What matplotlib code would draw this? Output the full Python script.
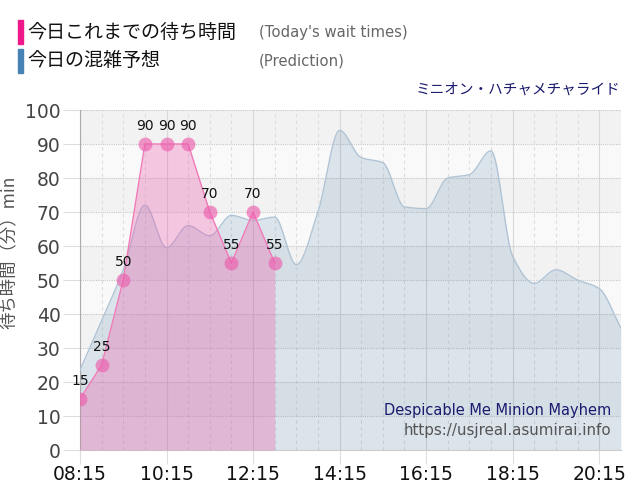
import numpy as np
import matplotlib.pyplot as plt
import matplotlib.patches as patches

plt.rcParams['font.family'] = ['DejaVu Sans', 'Noto Sans CJK JP']

# Today's actual wait times (min)
actual_times = ["08:15", "08:45", "09:15", "09:45", "10:15", "10:45",
                "11:15", "11:45", "12:15", "12:45"]
actual_wait = [15, 25, 50, 90, 90, 90, 70, 55, 70, 55]

# Prediction curve (min)
pred_times = ["08:15", "08:45", "09:15", "09:45", "10:15", "10:45", "11:15",
              "11:45", "12:15", "12:45", "13:15", "13:45", "14:15", "14:45",
              "15:15", "15:45", "16:15", "16:45", "17:15", "17:45", "18:15",
              "18:45", "19:15", "19:45", "20:15", "20:45"]
pred_wait = [23.5, 38, 53, 72, 59.5, 66, 63, 69, 67.5, 68.5, 54.5, 70, 94, 86,
             84.5, 71.5, 71, 80, 81, 88, 57, 49, 53, 50, 47.5, 36]

xtick_labels = ["08:15", "10:15", "12:15", "14:15", "16:15", "18:15", "20:15"]


def to_hours(ts):
    return np.array([int(t[:2]) + int(t[3:]) / 60 for t in ts])


## monotone cubic smoothing, only for drawing the prediction line
def smooth(x, y, n=20):
    x = np.asarray(x, float)
    y = np.asarray(y, float)
    h = np.diff(x)
    d = np.diff(y) / h
    m = np.zeros_like(y)
    m[0], m[-1] = d[0], d[-1]
    for i in range(1, len(y) - 1):
        if d[i - 1] * d[i] > 0:
            m[i] = 2 / (1 / d[i - 1] + 1 / d[i])
    xs, ys = [], []
    for i in range(len(h)):
        t = np.linspace(0, 1, n, endpoint=False)
        h00 = 2 * t**3 - 3 * t**2 + 1
        h10 = t**3 - 2 * t**2 + t
        h01 = -2 * t**3 + 3 * t**2
        h11 = t**3 - t**2
        xs.append(x[i] + t * h[i])
        ys.append(h00 * y[i] + h10 * h[i] * m[i] + h01 * y[i + 1] + h11 * h[i] * m[i + 1])
    xs.append([x[-1]])
    ys.append([y[-1]])
    return np.concatenate(xs), np.concatenate(ys)


xa = to_hours(actual_times)
xp = to_hours(pred_times)
xs, ys = smooth(xp, pred_wait)

fig = plt.figure(figsize=(6.4, 5), dpi=100)
ax = fig.add_axes([0.125, 0.1, 0.845, 0.68])

# banded background
for i in range(10):
    ax.axhspan(i * 10, i * 10 + 10, color='#f2f2f2' if i % 2 else '#f9f9f9', zorder=0, lw=0)

# grid
for v in np.arange(xp[0], xp[-1] + 0.01, 0.5):
    major = abs((v - xp[0]) % 2) < 1e-6
    ax.axvline(v, color='#d8d8d8' if major else '#dddddd', lw=0.8,
               ls='-' if major else (0, (3, 3)), zorder=1)
for v in range(10, 101, 10):
    ax.axhline(v, color='#c8c8c8', lw=0.8, ls=(0, (1, 1)), zorder=1)

# prediction
ax.fill_between(xs, ys, 0, color='#4a7ca8', alpha=0.17, lw=0, zorder=2)
ax.plot(xs, ys, color='#b0c4d6', lw=1, zorder=3)

# actual
ax.fill_between(xa, actual_wait, 0, color='#ee5fae', alpha=0.33, lw=0, zorder=4)
ax.plot(xa, actual_wait, color='#f07ab8', lw=1, zorder=5)
ax.plot(xa, actual_wait, 'o', color='#ec5fae', alpha=0.65, ms=10, mew=0, zorder=6)
for x, v in zip(xa, actual_wait):
    ax.annotate(str(v), (x, v), xytext=(0, 8), textcoords='offset points',
                ha='center', va='bottom', fontsize=10, color='#111111', zorder=7)

ax.set_xlim(xp[0], xp[-1])
ax.set_ylim(0, 100)
ax.set_xticks(to_hours(xtick_labels))
ax.set_xticklabels(xtick_labels, fontsize=13.5, color='#111111')
ax.set_yticks(range(0, 101, 10))
ax.tick_params(axis='y', labelsize=13.5, labelcolor='#444444', length=12, color='#dddddd', pad=2)
ax.tick_params(axis='x', length=10, color='#dddddd', pad=1)
for s in ['top', 'right']:
    ax.spines[s].set_visible(False)
ax.spines['left'].set_color('#aaaaaa')
ax.spines['bottom'].set_color('#cccccc')

ax.set_ylabel('待ち時間（分）min', fontsize=12.5, color='#555555',
              family=['Noto Sans CJK JP', 'DejaVu Sans'])
ax.yaxis.set_label_coords(-0.115, 0.58)

# legend header
fig.patches.append(patches.Rectangle((18 / 640, 1 - 44 / 500), 5 / 640, 24 / 500,
                                     transform=fig.transFigure, color='#f0178a'))
fig.patches.append(patches.Rectangle((18 / 640, 1 - 73 / 500), 5 / 640, 24 / 500,
                                     transform=fig.transFigure, color='#4682b4'))
jp = ['Noto Sans CJK JP', 'DejaVu Sans']
fig.text(27 / 640, 1 - 32 / 500, '今日これまでの待ち時間', fontsize=13.7, va='center', family=jp, color='#111111')
fig.text(27 / 640, 1 - 61 / 500, '今日の混雑予想', fontsize=13.7, va='center', family=jp, color='#111111')
fig.text(259 / 640, 1 - 32 / 500, "(Today's wait times)", fontsize=10.7, va='center', color='#666666')
fig.text(259 / 640, 1 - 61 / 500, "(Prediction)", fontsize=10.7, va='center', color='#666666')
fig.text(620 / 640, 1 - 90 / 500, 'ミニオン・ハチャメチャライド', fontsize=10.5, ha='right', va='center',
         family=jp, color='#1a1a6e')

ax.text(0.982, 0.115, 'Despicable Me Minion Mayhem', transform=ax.transAxes, ha='right',
        va='center', fontsize=10.5, color='#1a1a6e', zorder=8)
ax.text(0.982, 0.056, 'https://usjreal.asumirai.info', transform=ax.transAxes, ha='right',
        va='center', fontsize=10.9, color='#555555', zorder=8)

fig.savefig('out.png', dpi=100)
